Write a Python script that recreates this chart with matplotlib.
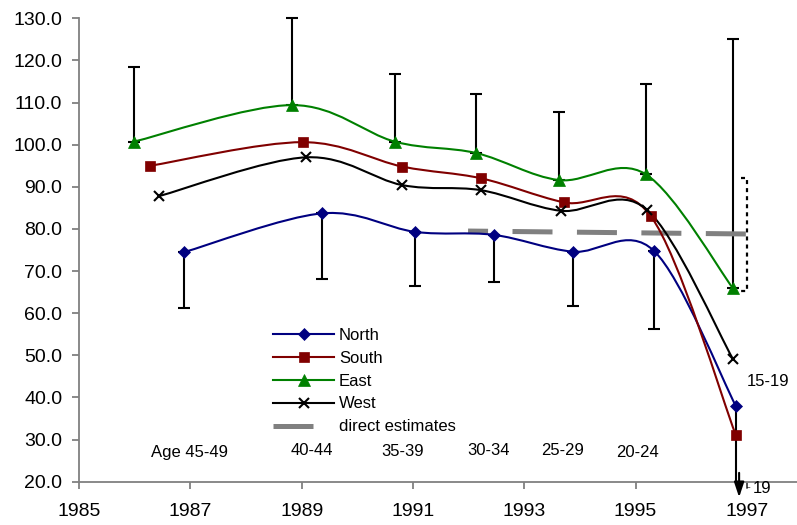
import numpy as np
import matplotlib
matplotlib.use("Agg")
import matplotlib.pyplot as plt
from matplotlib.path import Path
from matplotlib.patches import PathPatch
from matplotlib.lines import Line2D

plt.rcParams["font.family"] = ["Liberation Sans", "DejaVu Sans"]
plt.rcParams["lines.scale_dashes"] = False

# values
north_x = [1986.89, 1989.37, 1991.04, 1992.45, 1993.87, 1995.33, 1996.80]
north_y = [74.5, 83.7, 79.3, 78.6, 74.6, 74.8, 38.0]
north_err = [13.2, 15.7, 12.8, 11.3, 12.9, 18.5, 18.0]

south_x = [1986.28, 1989.02, 1990.81, 1992.23, 1993.71, 1995.27, 1996.80]
south_y = [95.0, 100.6, 94.8, 92.0, 86.3, 83.1, 31.1]

east_x = [1985.98, 1988.83, 1990.68, 1992.14, 1993.62, 1995.18, 1996.75]
east_y = [100.7, 109.4, 100.7, 98.0, 91.6, 93.0, 65.9]
east_err = [17.8, 20.7, 16.1, 14.0, 16.1, 21.5, 59.1]

west_x = [1986.44, 1989.08, 1990.81, 1992.22, 1993.66, 1995.20, 1996.75]
west_y = [87.8, 97.0, 90.4, 89.2, 84.3, 84.6, 49.1]

direct_x = [1991.99, 1997.0]
direct_y = [79.5, 78.8]

bracket_x = [1996.90, 1997.0, 1997.0, 1996.87]
bracket_y = [92.0, 92.0, 65.3, 65.3]

age_labels = ["Age 45-49", "40-44", "35-39", "30-34", "25-29", "20-24", "15-19", "19"]
age_pos = [(1986.98, 26.9), (1989.18, 27.4), (1990.81, 27.2), (1992.35, 27.4),
           (1993.68, 27.4), (1995.04, 26.9), (1997.38, 43.7), (1997.27, 18.5)]

NAVY = "#000080"
MAROON = "#800000"
GREEN = "#008000"
GRAY = "#808080"


def smooth_path(xs, ys):
    # Excel style smoothed line: cubic bezier through the points
    pts = np.column_stack([xs, ys])
    n = len(pts)
    verts = [pts[0]]
    codes = [Path.MOVETO]
    for i in range(n - 1):
        p0 = pts[max(i - 1, 0)]
        p1 = pts[i]
        p2 = pts[i + 1]
        p3 = pts[min(i + 2, n - 1)]
        c1 = p1 + (p2 - p0) / 6.0
        c2 = p2 - (p3 - p1) / 6.0
        verts += [c1, c2, p2]
        codes += [Path.CURVE4] * 3
    return Path(verts, codes)


fig = plt.figure(figsize=(7.97, 5.25), dpi=100)
ax = fig.add_axes([79 / 797, 1 - 481.7 / 525, (797 - 79) / 797, (481.7 - 18.3) / 525])
ax.set_xlim(1985, 1997.9)
ax.set_ylim(20, 130)

# error bars
ax.errorbar(east_x, east_y, yerr=[np.zeros(len(east_err)), east_err], fmt="none",
            ecolor="black", elinewidth=1.5, capsize=4, capthick=1.5, zorder=2,
            clip_on=False)
ax.errorbar(north_x[:-1], north_y[:-1], yerr=[north_err[:-1], np.zeros(len(north_err) - 1)],
            fmt="none", ecolor="black", elinewidth=1.5, capsize=4, capthick=1.5, zorder=2)
ax.vlines(north_x[-1], north_y[-1] - north_err[-1], north_y[-1], color="black", lw=1.5, zorder=2)
ax.annotate("", xy=(north_x[-1] + 0.06, 16.3), xytext=(north_x[-1] + 0.06, 22.1),
            arrowprops=dict(arrowstyle="-|>,head_width=0.3,head_length=0.9",
                            color="black", lw=1.5, shrinkA=0, shrinkB=0),
            annotation_clip=False, zorder=4)

series = [
    ("North", north_x, north_y, NAVY, "D", 6.5),
    ("South", south_x, south_y, MAROON, "s", 7.5),
    ("East", east_x, east_y, GREEN, "^", 8.0),
    ("West", west_x, west_y, "black", "x", 7.0),
]
handles = []
for name, xs, ys, color, marker, ms in series:
    ax.add_patch(PathPatch(smooth_path(xs, ys), fill=False, edgecolor=color, lw=1.5,
                           zorder=3, clip_on=False))
    ax.plot(xs, ys, linestyle="none", marker=marker, markersize=ms, color=color,
            markeredgewidth=1.5 if marker == "x" else 0.5, zorder=4, clip_on=False)
    handles.append(Line2D([], [], color=color, lw=1.5, marker=marker, markersize=ms,
                          markeredgewidth=1.5 if marker == "x" else 0.5, label=name))

# direct estimates
ax.plot(direct_x, direct_y, color=GRAY, lw=3.6, linestyle=(14.4, (28.8, 17.6)),
        solid_capstyle="butt", zorder=2.5)
handles.append(Line2D([], [], color=GRAY, lw=3.6, linestyle=(0, (28.8, 17.6)),
                      label="direct estimates"))

# dotted bracket
ax.plot(bracket_x, bracket_y, color="black", lw=1.6, linestyle=(0, (2.9, 2.9)),
        clip_on=False, zorder=2)

for lab, (x, y) in zip(age_labels, age_pos):
    ax.text(x, y, lab, fontsize=12, ha="center", va="center", clip_on=False)
ax.text(1997.02, 18.9, "L", fontsize=6, ha="center", va="center", clip_on=False)

ax.legend(handles=handles, loc="upper left", bbox_to_anchor=(273 / 797, 1 - 328 / 525),
          bbox_transform=fig.transFigure, frameon=False, fontsize=12, borderpad=0,
          borderaxespad=0, handlelength=3.66, handletextpad=0.3, labelspacing=0.47)

ax.set_xticks(range(1985, 1998, 2))
ax.set_yticks(range(20, 131, 10))
ax.set_yticklabels([f"{v:.1f}" for v in range(20, 131, 10)])
for side in ["top", "right"]:
    ax.spines[side].set_visible(False)
for side in ["left", "bottom"]:
    ax.spines[side].set_color(GRAY)
    ax.spines[side].set_linewidth(1.3)
ax.tick_params(axis="both", direction="out", length=5, width=1.3, color=GRAY,
               labelsize=14, labelcolor="black")
ax.tick_params(axis="y", pad=7)
ax.tick_params(axis="x", pad=10)

fig.savefig("out.png", dpi=100)
